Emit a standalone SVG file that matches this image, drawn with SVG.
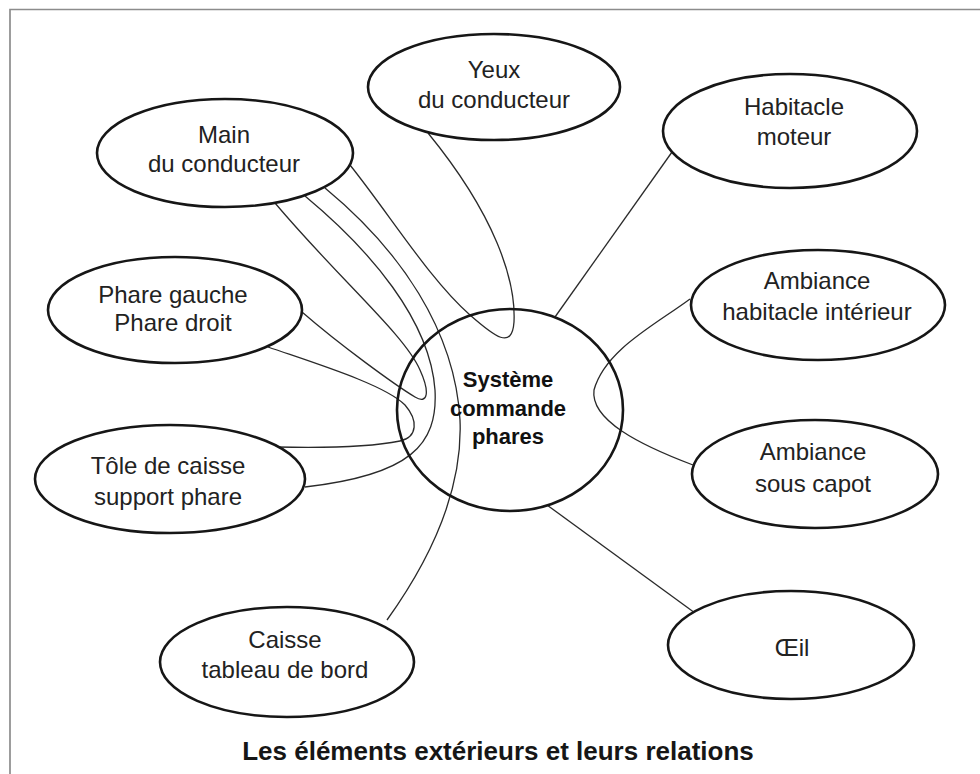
<svg xmlns="http://www.w3.org/2000/svg" width="980" height="774" viewBox="0 0 980 774">
<style>
.bg{fill:#ffffff}
.frame{stroke:#8c8c8c;stroke-width:1.7;fill:none}
.node ellipse{fill:#ffffff;stroke:#161616;stroke-width:2.6}
.node text{font-family:"Liberation Sans",Arial,sans-serif;font-size:24px;fill:#222;text-anchor:middle}
#systeme text{font-weight:bold;font-size:22px;fill:#111}
.conn path,.conn line{fill:none;stroke:#2a2a2a;stroke-width:1.3}
.caption{font-family:"Liberation Sans",Arial,sans-serif;font-weight:bold;font-size:26px;fill:#161616;text-anchor:middle}
</style>
<rect class="bg" x="0" y="0" width="980" height="774"/>
<path class="frame" d="M10,774 V9.5 H980"/>

<g id="connectors" class="conn">
  <path d="M350,165 C390,215 430,280 470,315 C495,337 512,350 514,322 C516,280 495,215 428,133"/>
  <path d="M275,203 C340,280 405,335 420,370 C430,392 428,405 415,397 C395,385 340,345 302,312"/>
  <path d="M268,347 C320,365 385,385 405,405 C418,420 418,437 400,441 C370,447 320,448 277,447"/>
  <path d="M305,196 C370,250 430,320 435,390 C438,445 410,475 305,487"/>
  <path d="M325,188 C400,250 455,330 460,420 C463,490 430,560 387,620"/>
  <path d="M690,299 C655,325 605,350 594,390 C590,420 640,445 693,465"/>
  <line x1="677" y1="145" x2="555" y2="317"/>
  <line x1="547" y1="505" x2="695" y2="613"/>
</g>

<g id="systeme" class="node">
  <ellipse cx="510" cy="410" rx="113" ry="101" fill="none" style="fill:none"/>
  <text x="508" y="387">Système</text>
  <text x="508" y="416">commande</text>
  <text x="508" y="444">phares</text>
</g>

<g id="yeux" class="node">
  <ellipse cx="494" cy="87" rx="126" ry="53"/>
  <text x="494" y="78">Yeux</text>
  <text x="494" y="108">du conducteur</text>
</g>

<g id="main" class="node">
  <ellipse cx="225" cy="153" rx="128" ry="54"/>
  <text x="224" y="143">Main</text>
  <text x="224" y="172">du conducteur</text>
</g>

<g id="habitacle-moteur" class="node">
  <ellipse cx="790" cy="131" rx="127" ry="57"/>
  <text x="794" y="115">Habitacle</text>
  <text x="794" y="145">moteur</text>
</g>

<g id="phares" class="node">
  <ellipse cx="175" cy="310" rx="127" ry="53"/>
  <text x="173" y="303">Phare gauche</text>
  <text x="173" y="331">Phare droit</text>
</g>

<g id="ambiance-habitacle" class="node">
  <ellipse cx="818" cy="305" rx="127" ry="55"/>
  <text x="817" y="289">Ambiance</text>
  <text x="817" y="320">habitacle intérieur</text>
</g>

<g id="tole" class="node">
  <ellipse cx="170" cy="479" rx="135" ry="54"/>
  <text x="168" y="474">Tôle de caisse</text>
  <text x="168" y="505">support phare</text>
</g>

<g id="ambiance-capot" class="node">
  <ellipse cx="815" cy="474" rx="123" ry="54"/>
  <text x="813" y="460">Ambiance</text>
  <text x="813" y="492">sous capot</text>
</g>

<g id="caisse" class="node">
  <ellipse cx="287" cy="662" rx="127" ry="55"/>
  <text x="285" y="648">Caisse</text>
  <text x="285" y="678">tableau de bord</text>
</g>

<g id="oeil" class="node">
  <ellipse cx="791" cy="645" rx="123" ry="54"/>
  <text x="792" y="656">Œil</text>
</g>

<text class="caption" x="498" y="760">Les éléments extérieurs et leurs relations</text>
</svg>
